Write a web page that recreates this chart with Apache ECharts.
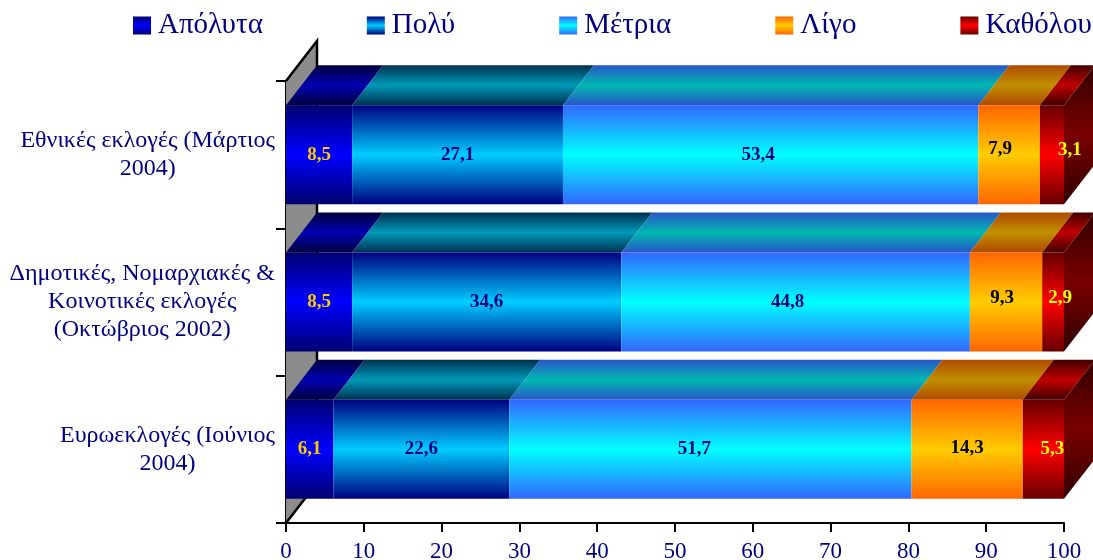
<!DOCTYPE html>
<html><head><meta charset="utf-8">
<style>html,body{margin:0;padding:0;background:#fff}#c{width:1093px;height:560px}</style>
<script src="https://cdn.jsdelivr.net/npm/echarts@6/dist/echarts.min.js"></script>
</head><body><div id="c"></div>
<script>
const categories = ['Εθνικές εκλογές (Μάρτιος\n2004)', 'Δημοτικές, Νομαρχιακές &\nΚοινοτικές εκλογές\n(Οκτώβριος 2002)', 'Ευρωεκλογές (Ιούνιος\n2004)'];
const seriesNames = ['Απόλυτα', 'Πολύ', 'Μέτρια', 'Λίγο', 'Καθόλου'];
const apolyta = [8.5, 8.5, 6.1];
const poly = [27.1, 34.6, 22.6];
const metria = [53.4, 44.8, 51.7];
const ligo = [7.9, 9.3, 14.3];
const katholou = [3.1, 2.9, 5.3];
const allValues = [apolyta, poly, metria, ligo, katholou];
const frontColors = [['#000070', '#0000ff'], ['#000080', '#00ccff'], ['#3366ff', '#00ffff'], ['#ff6600', '#ffcc00'], ['#660000', '#ff0000']];
const topColors = [['#000040', '#0000b0'], ['#003050', '#0099b8'], ['#2a55c8', '#00b8b0'], ['#b04a00', '#c09000'], ['#400000', '#c00000']];
const sideColors = ['#300000', '#7a0000'];
const labelColors = ['#ffcc00', '#000080', '#000080', '#000000', '#ffff00'];
// hand-placed label shifts in the reference, per series then category: [dx, dy]
const labelShift = [
  [[0, 0], [0, 0], [0, 0]],
  [[0, 0], [0, 0], [0, 0]],
  [[-12.5, 0], [-8, 0], [-16, 0]],
  [[-9, -5.5], [-4, -4], [0, -1]],
  [[18, -4.5], [7, -4], [9, 0]]
];
const FONT = '"Liberation Serif", serif';
const DX = 31, DY = 40, BAR_RATIO = 0.672;
const grad = c => new echarts.graphic.LinearGradient(0, 0, 0, 1, [{offset: 0, color: c[0]}, {offset: 0.5, color: c[1]}, {offset: 1, color: c[0]}]);

const chart = echarts.init(document.getElementById('c'), null, {renderer: 'canvas'});
const cum = categories.map(() => 0);
const barSeries = allValues.map((vals, si) => {
  const data = vals.map((v, ci) => {
    const s = cum[ci];
    cum[ci] += v;
    return [s, ci, Math.min(cum[ci], 100), v];
  });
  return {
    type: 'custom', name: seriesNames[si], data, z: 3,
    encode: {x: [0, 2], y: 1},
    itemStyle: {color: grad(frontColors[si])},
    renderItem(params, api) {
      const ci = api.value(1);
      const a = api.coord([api.value(0), ci]);
      const b = api.coord([api.value(2), ci]);
      const h = api.size([0, 1])[1] * BAR_RATIO;
      const yt = a[1] - h / 2, yb = a[1] + h / 2;
      const x0 = a[0], x1 = b[0];
      const shift = labelShift[si][ci];
      const children = [
        {type: 'polygon', shape: {points: [[x0, yt], [x1, yt], [x1 + DX, yt - DY], [x0 + DX, yt - DY]]}, style: {fill: grad(topColors[si])}},
        {type: 'rect', shape: {x: x0, y: yt, width: x1 - x0, height: yb - yt}, style: {fill: grad(frontColors[si])}}
      ];
      if (si === allValues.length - 1) {
        children.push({type: 'polygon', shape: {points: [[x1, yt], [x1 + DX, yt - DY], [x1 + DX, yb - DY], [x1, yb]]}, style: {fill: grad(sideColors)}});
      }
      children.push({type: 'text', z2: 10, style: {x: (x0 + x1) / 2 + shift[0], y: a[1] + shift[1], text: api.value(3).toFixed(1).replace('.', ','), align: 'center', verticalAlign: 'middle', fill: labelColors[si], font: 'bold 19px ' + FONT}});
      return {type: 'group', children};
    }
  };
});
const wall = {
  type: 'custom', name: 'wall', data: [[0, 0]], z: 1, silent: true,
  encode: {x: 0, y: 1},
  renderItem(params) {
    const g = params.coordSys;
    const l = g.x, t = g.y, b = g.y + g.height;
    return {type: 'group', children: [
      {type: 'polygon', shape: {points: [[l, t], [l + DX, t - DY], [l + DX, b - DY], [l, b]]}, style: {fill: '#8c8c8c'}},
      {type: 'polyline', shape: {points: [[l, b], [l + DX, b - DY], [l + DX, t - DY], [l, t]]}, style: {fill: 'none', stroke: '#000', lineWidth: 2.5}}
    ]};
  }
};
chart.setOption({
  animation: false,
  backgroundColor: '#fff',
  legend: {
    data: seriesNames, left: 128, top: 6, width: 1000, itemGap: 104, itemWidth: 18, itemHeight: 18, icon: 'rect',
    textStyle: {fontFamily: FONT, fontSize: 29, color: '#000080', padding: [0, 0, 0, 2]}
  },
  grid: {left: 286, width: 778, top: 81, height: 442, outerBoundsMode: 'none'},
  xAxis: {
    type: 'value', min: 0, max: 100, interval: 10,
    axisLine: {show: true, lineStyle: {color: '#000', width: 2}},
    axisTick: {show: true, length: 9, lineStyle: {color: '#000', width: 2}},
    splitLine: {show: false},
    axisLabel: {fontFamily: FONT, fontSize: 23, color: '#000080', margin: 17}
  },
  yAxis: {
    type: 'category', inverse: true, data: categories,
    axisLine: {show: true, lineStyle: {color: '#000', width: 2}},
    axisTick: {show: true, length: 10, lineStyle: {color: '#000', width: 2}},
    axisLabel: {
      margin: 11, interval: 0, align: 'right', lineHeight: 28,
      formatter: v => v.split('\n').map(s => '{a|' + s + '}').join('\n'),
      rich: {a: {fontFamily: FONT, fontSize: 24, color: '#000080', align: 'center', lineHeight: 28}}
    }
  },
  series: [wall].concat(barSeries)
});
</script></body></html>
